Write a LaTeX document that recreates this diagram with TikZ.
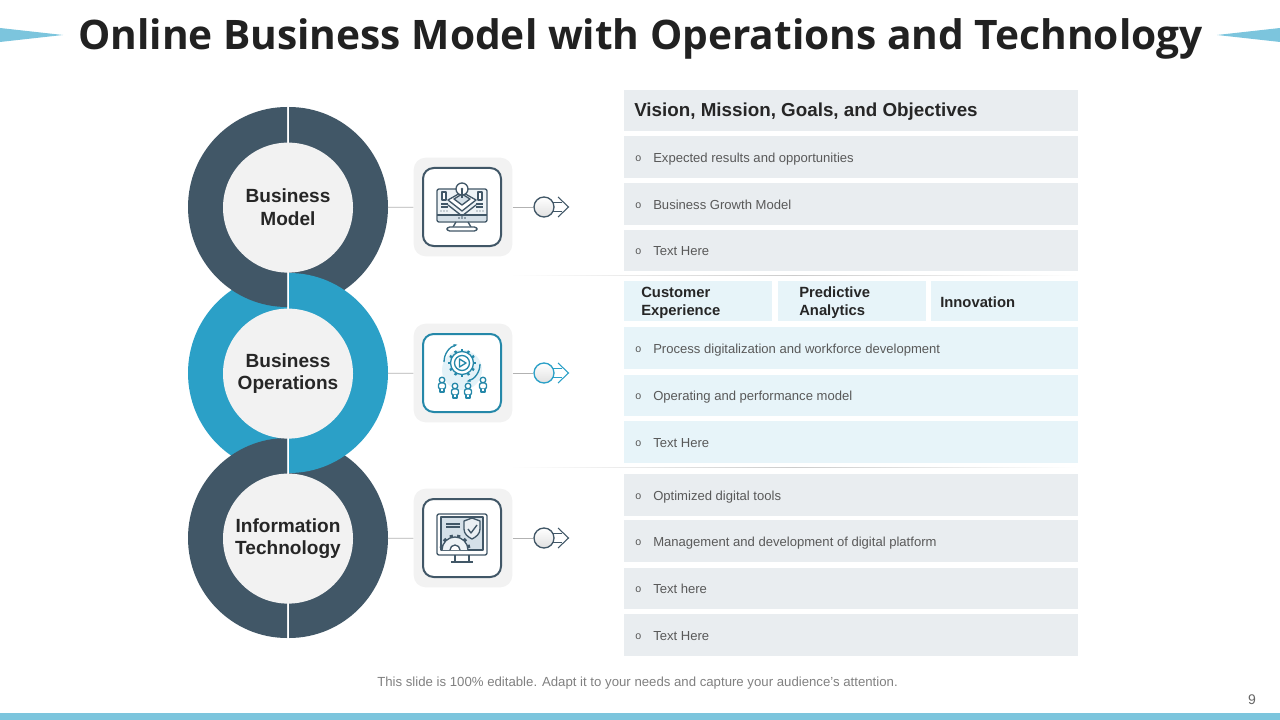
\documentclass[tikz,border=0pt]{standalone}
\usepackage{fontspec}
\setmainfont{Liberation Sans}
\newfontfamily\titlefont{Open Sans}
\usetikzlibrary{arrows.meta,calc,positioning,shapes.geometric}
\definecolor{slate}{HTML}{415767}
\definecolor{teal}{HTML}{2BA0C7}
\definecolor{sky}{HTML}{7CC5DD}
\definecolor{rowgrey}{HTML}{E9EDF0}
\definecolor{rowblue}{HTML}{E7F4F9}
\definecolor{iconfill}{HTML}{D5E0E8}
\definecolor{bodytxt}{HTML}{595959}

\newcommand{\halfring}[3]{% centre y, colour, side (1 right, -1 left)
  \fill[#2] (288+#3*1,#1-100) arc[start angle=-90,end angle=-90+#3*180,x radius=99,y radius=100]
    -- cycle;
}

\begin{document}
\begin{tikzpicture}[
    x=0.75pt, y=-0.75pt,
    hub/.style={circle, fill=black!5, minimum size=97.5pt, inner sep=0pt, align=center, font=\fontsize{14.3}{17.2}\selectfont\bfseries, text=black!85},
    tile/.style={draw=none, fill=black!5, rounded corners=9pt, minimum size=74pt},
    iconbox/.style={draw, line width=1.5pt, fill=white, rounded corners=8pt, minimum size=58.5pt},
    knob/.style={circle, draw, line width=1pt, top color=white, bottom color=black!12, minimum size=15pt, inner sep=0pt},
    link/.style={draw=black!30, line width=0.6pt},
    rowbox/.style={fill=rowgrey, minimum width=340.5pt, minimum height=31pt, inner sep=0pt},
    rowtext/.style={anchor=west, font=\fontsize{9.8}{12}\selectfont, text=bodytxt, inner sep=0pt, text height=7pt, text depth=2pt},
    bullet/.style={anchor=west, font=\fontsize{8}{10}\selectfont, text=bodytxt, inner sep=0pt},
    headtext/.style={anchor=west, align=left, font=\fontsize{11.1}{13.5}\selectfont\bfseries, text=black!85, inner sep=0pt},
    glyph/.style={line width=1pt, line join=round}
]
\useasboundingbox (0,0) rectangle (1280,720);

% Title
\fill[sky] (0,28) -- (63,35) -- (0,42) -- cycle;
\fill[sky] (1280,28) -- (1217,35) -- (1280,42) -- cycle;
\node[font=\titlefont\fontsize{30.5}{36}\selectfont\bfseries, text=black!87, inner sep=0pt] (title) at (640.5,39) {Online Business Model with Operations and Technology};

% Rings
\halfring{373}{teal}{-1}
\halfring{207}{slate}{-1}
\halfring{538}{slate}{-1}
\halfring{207}{slate}{1}
\halfring{538}{slate}{1}
\halfring{373}{teal}{1}

\node[hub] (hubA) at (288,207.6) {Business\\Model};
\node[hub] (hubB) at (288,373.6) {Business\\Operations};
\node[hub] (hubC) at (288,538.6) {Information\\Technology};

% Icon tiles
\node[tile] (tileA) at (463,207) {};
\node[tile] (tileB) at (463,373) {};
\node[tile] (tileC) at (463,538) {};
\node[iconbox, draw=slate] (boxA) at (462,207) {};
\node[iconbox, draw=teal!85!black] (boxB) at (462,373) {};
\node[iconbox, draw=slate] (boxC) at (462,538) {};

% Monitor with bulb
\begin{scope}[shift={(462,207)}, glyph, draw=slate]
  \draw[fill=iconfill!40, rounded corners=1.5pt] (-25,-18) rectangle (25,15);
  \fill[iconfill] (-24,8) rectangle (24,14);
  \draw (-25,8) -- (25,8);
  \draw (-6,15) -- (-9,20) (6,15) -- (9,20);
  \draw[fill=white, rounded corners=2pt] (-15,20) rectangle (15,24);
  \draw[fill=white] (-20,-15) rectangle (-16,-7) (16,-15) rectangle (20,-7);
  \draw (-21,-3) -- (-14,-3) (-21,0) -- (-14,0) (14,-3) -- (21,-3) (14,0) -- (21,0);
  \draw[fill=white] (-14,-7) -- (0,-15) -- (14,-7) -- (0,4) -- cycle;
  \draw[fill=iconfill] (-8,-8) -- (0,-13) -- (8,-8) -- (0,-2) -- cycle;
  \draw (-14,-2) -- (0,9) -- (14,-2);
  \draw[fill=white] (0,-18) circle (6);
  \draw (0,-18) -- (0,-9);
  \fill[slate] (0,-18) circle (1.4) (-3,11) circle (.8) (0,11) circle (.8) (3,11) circle (.8);
  \fill[slate] (-21,4) circle (.6) (-18,4) circle (.6) (-15,4) circle (.6) (15,4) circle (.6) (18,4) circle (.6) (21,4) circle (.6);
\end{scope}

% Gear with people
\begin{scope}[shift={(462,373)}, glyph, draw=teal!85!black]
  \fill[rowblue!70!teal!35] (0,-3) circle (20);
  \foreach \a in {0,30,...,330}
    \draw[line width=1.8pt] ($(0,-10)+(\a:11)$) -- ($(0,-10)+(\a:14)$);
  \draw[fill=white] (0,-10) circle (11.5);
  \draw (0,-10) circle (7.5);
  \draw (-2.5,-14) -- (4,-10) -- (-2.5,-6) -- cycle;
  \draw[-{Stealth[length=3pt]}] (-18,-11) arc[start angle=180,end angle=255,radius=18];
  \draw[-{Stealth[length=3pt]}] (18,-9) arc[start angle=0,end angle=75,radius=18];
  \foreach \px/\py in {-20/7,-7/13,6/13,21/7}{
    \draw[fill=white] (\px,\py) circle (2.8);
    \draw[fill=white, rounded corners=1.5pt] (\px-3.5,\py+3) rectangle (\px+3.5,\py+9);
    \draw[fill=white] (\px-2,\py+9) -- (\px-2,\py+12) -- (\px+2,\py+12) -- (\px+2,\py+9);
  }
\end{scope}

% Monitor with gear and shield
\begin{scope}[shift={(462,538)}, glyph, draw=slate]
  \draw[fill=white, rounded corners=1.5pt] (-25,-24) rectangle (25,17);
  \draw[fill=iconfill] (-21,-21) rectangle (21,12);
  \draw (-7,17) -- (-7,24) (7,17) -- (7,24) (-11,24) -- (11,24);
  \draw (-16,-14) -- (-2,-14) (-16,-11) -- (-2,-11);
  \draw[fill=iconfill!50] (2,-17) -- (10,-20) -- (18,-17) -- (18,-9) .. controls (18,-4) and (14,-1) .. (10,1) .. controls (6,-1) and (2,-4) .. (2,-9) -- cycle;
  \draw (6,-9) -- (9,-5) -- (15,-13);
  \foreach \a in {195,225,...,345}
    \draw[line width=2.4pt] ($(-7,12)+(\a:12)$) -- ($(-7,12)+(\a:15.5)$);
  \draw[fill=iconfill!40] (-20,12) arc[start angle=180,end angle=360,radius=13];
  \draw[fill=white] (-12,12) arc[start angle=180,end angle=360,radius=5];
\end{scope}

% Links and pointers
\foreach \n/\yy/\col in {A/207/slate,B/373/teal,C/538/slate}{
  \coordinate (tip\n) at (568.5,\yy);
  \draw[\col, line width=0.8pt] ($(tip\n)+(-10.5,-10)$) -- (tip\n) -- ++(-10.5,10);
  \node[knob, draw=\col] (knob\n) at (544,\yy) {};
  \draw[link, shorten <=26pt] (hub\n) -- (tile\n);
  \draw[link] (tile\n) -- (knob\n);
  \draw[\col, line width=0.7pt] ($(knob\n)+(8,-4.5)$) -- ++(10,0) ($(knob\n)+(8,4.5)$) -- ++(10,0);
}

% Separators
\shade[left color=white, right color=white, middle color=black!20] (510,275) rectangle (1078,275.8);
\shade[left color=white, right color=white, middle color=black!20] (510,467) rectangle (1078,467.8);

% Vision rows
\node[rowbox, minimum height=31pt] (head) at (851,110.5) {};
\node[headtext, font=\fontsize{14.1}{16}\selectfont\bfseries] (headt) at (634,111.5) {Vision, Mission, Goals, and Objectives};
\foreach \n/\yy/\txt in {a/157/Expected results and opportunities,b/204/Business Growth Model,c/250.5/Text Here,
    g/495/Optimized digital tools,h/541/Management and development of digital platform,i/588.5/Text here,j/635/Text Here}{
  \node[rowbox] (row\n) at (851,\yy) {};
  \node[bullet] (bul\n) at (635,\yy+1.5) {o};
  \node[rowtext] (txt\n) at (653,\yy+2) {\txt};
}

% Operations rows
\foreach \n/\xx/\ww in {p/698/148,q/852/148,r/1004.5/147}{
  \node[rowbox, fill=rowblue, minimum width=\ww*0.75pt, minimum height=30pt] (col\n) at (\xx,301) {};
}
\node[headtext] (colpt) at (641,302.5) {Customer\\Experience};
\node[headtext] (colqt) at (799,302.5) {Predictive\\Analytics};
\node[headtext] (colrt) at (940,302) {Innovation};
\foreach \n/\yy/\txt in {d/348/Process digitalization and workforce development,e/395.5/Operating and performance model,f/442/Text Here}{
  \node[rowbox, fill=rowblue] (row\n) at (851,\yy) {};
  \node[bullet] (bul\n) at (635,\yy+1.5) {o};
  \node[rowtext] (txt\n) at (653,\yy+2) {\txt};
}

% Footer
\node[font=\fontsize{9.9}{12}\selectfont, text=black!50, inner sep=0pt] (foot) at (637.5,683) {This slide is 100\% editable. Adapt it to your needs and capture your audience's attention.};
\node[font=\fontsize{10.5}{12}\selectfont, text=black!60, inner sep=0pt] (page) at (1252,699.5) {9};
\fill[sky] (0,713) rectangle (1280,720);

\end{tikzpicture}
\end{document}
